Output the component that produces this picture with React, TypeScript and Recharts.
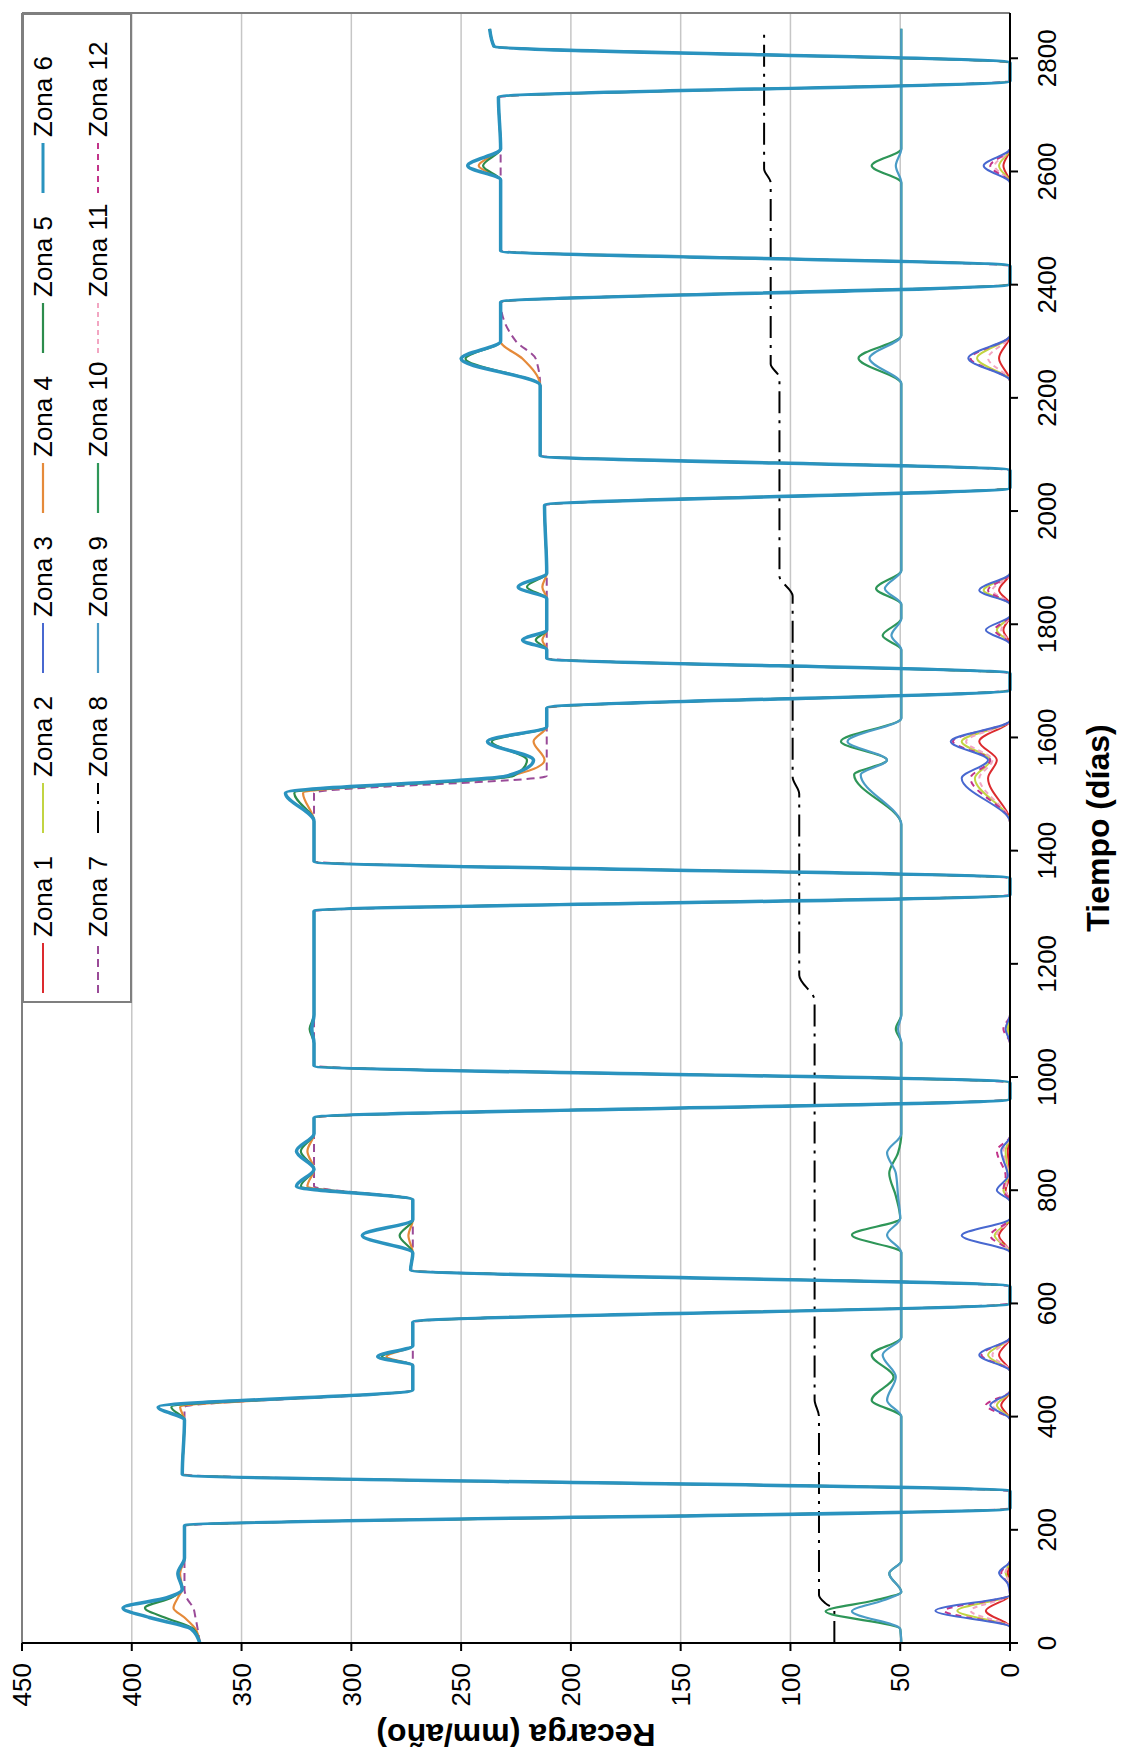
import React from 'react';
import { LineChart, Line, XAxis, YAxis, CartesianGrid, ReferenceLine, Label } from 'recharts';

// chart is drawn in its natural orientation and turned -90deg, like the scanned figure
const W = 1758;
const H = 1121;
const FONT = '"Liberation Sans", Arial, sans-serif';

const timeTicks = [0, 200, 400, 600, 800, 1000, 1200, 1400, 1600, 1800, 2000, 2200, 2400, 2600, 2800];
const recargaTicks = [0, 50, 100, 150, 200, 250, 300, 350, 400, 450];

// zonas altas (4, 5, 6, 7)
const tAlta = [
  0, 25, 45, 62, 80, 95, 123, 150, 207, 238,
  268, 298, 394, 417, 447, 490, 506, 525, 567, 600,
  630, 659, 689, 720, 748, 783, 807, 837, 869, 900,
  928, 961, 990, 1020, 1060, 1085, 1110, 1293, 1322, 1351,
  1381, 1452, 1502, 1532, 1560, 1593, 1619, 1652, 1684, 1713,
  1740, 1755, 1772, 1790, 1845, 1866, 1890, 2010, 2041, 2072,
  2098, 2222, 2269, 2300, 2369, 2401, 2433, 2460, 2585, 2610,
  2640, 2731, 2760, 2792, 2821, 2852,
];
const zona6 = [
  369, 373, 392, 404, 384, 377, 379, 376, 376, 0,
  0, 377, 376, 388, 272, 272, 288, 272, 272, 0,
  0, 273, 272, 295, 272, 272, 325, 317, 325, 317,
  317, 0, 0, 317, 317, 318, 317, 317, 0, 0,
  317, 317, 330, 229, 217, 238, 211, 211, 0, 0,
  211, 211, 222, 211, 211, 224, 211, 212, 0, 0,
  214, 214, 250, 232, 232, 0, 0, 232, 232, 247,
  232, 233, 0, 0, 235, 237,
];
const zona5 = [
  369, 372, 385, 394, 382, 377, 379, 376, 376, 0,
  0, 377, 376, 382, 272, 272, 286, 272, 272, 0,
  0, 273, 272, 278, 272, 272, 323, 317, 323, 317,
  317, 0, 0, 317, 317, 319, 317, 317, 0, 0,
  317, 317, 326, 226, 220, 236, 211, 211, 0, 0,
  211, 211, 216, 211, 211, 220, 211, 212, 0, 0,
  214, 214, 248, 232, 232, 0, 0, 232, 232, 240,
  232, 233, 0, 0, 235, 237,
];
const zona4 = [
  369, 371, 376, 381, 379, 377, 378, 376, 376, 0,
  0, 377, 376, 378, 272, 272, 284, 272, 272, 0,
  0, 273, 272, 274, 272, 272, 320, 317, 320, 317,
  317, 0, 0, 317, 317, 318, 317, 317, 0, 0,
  317, 317, 322, 228, 212, 217, 211, 211, 0, 0,
  211, 211, 213, 211, 211, 213, 211, 212, 0, 0,
  214, 214, 222, 232, 232, 0, 0, 232, 232, 242,
  232, 233, 0, 0, 235, 237,
];
const zona7 = [
  369, 370, 371, 372, 375, 376, 376, 376, 376, 0,
  0, 377, 376, 376, 272, 272, 272, 272, 272, 0,
  0, 273, 272, 272, 272, 272, 317, 317, 317, 317,
  317, 0, 0, 317, 317, 317, 317, 317, 0, 0,
  317, 317, 317, 211, 211, 211, 211, 211, 0, 0,
  211, 211, 211, 211, 211, 211, 211, 212, 0, 0,
  214, 214, 216, 225, 232, 0, 0, 232, 232, 232,
  232, 233, 0, 0, 235, 237,
];

// zonas en torno a 50 (9, 10)
const tMedia = [
  0, 25, 56, 75, 90, 123, 145, 400, 429, 470,
  509, 540, 690, 721, 750, 790, 830, 866, 900, 1060,
  1085, 1110, 1446, 1534, 1560, 1593, 1634, 1755, 1780, 1810,
  1835, 1863, 1895, 2225, 2270, 2310, 2580, 2610, 2640, 2852,
];
const zona9 = [
  49.5, 50, 72, 58, 49.5, 55, 49.5, 49.5, 56, 52,
  58, 49.5, 49.5, 56, 50, 51, 52, 56, 49.5, 49.5,
  51, 49.5, 49.5, 68, 56, 74, 49.5, 49.5, 54, 49.5,
  49.5, 57, 49.5, 49.5, 64, 49.5, 49.5, 52, 49.5, 49.5,
];
const zona10 = [
  49.5, 50, 84, 62, 49.5, 55, 49.5, 49.5, 63, 53,
  63, 49.5, 49.5, 72, 50, 52, 55, 51, 49.5, 49.5,
  52, 49.5, 49.5, 71, 56, 77, 49.5, 49.5, 58, 49.5,
  49.5, 61, 49.5, 49.5, 69, 49.5, 49.5, 63, 49.5, 49.5,
];

// zonas cercanas a 0 (1, 2, 3, 11, 12)
const tBaja = [
  0, 28, 57, 85, 105, 124, 145, 395, 420, 445,
  480, 509, 540, 690, 720, 750, 780, 800, 825, 870,
  895, 1060, 1085, 1110, 1450, 1528, 1560, 1593, 1630, 1765,
  1790, 1815, 1835, 1860, 1890, 2230, 2270, 2310, 2580, 2610,
  2640, 2852,
];
const zona1 = [
  0, 0, 11, 0, 0, 1, 0, 0, 4, 0,
  0, 5, 0, 0, 5, 0, 0, 2, 0, 1,
  0, 0, 1, 0, 0, 10, 6, 14, 0, 0,
  3, 0, 0, 5, 0, 0, 5, 0, 0, 3,
  0, 0,
];
const zona2 = [
  0, 0, 24, 0, 0, 2, 0, 0, 6, 0,
  0, 10, 0, 0, 7, 0, 0, 3, 1, 2,
  0, 0, 1, 0, 0, 16, 9, 22, 0, 0,
  6, 0, 0, 12, 0, 0, 15, 0, 0, 5,
  0, 0,
];
const zona3 = [
  0, 0, 34, 0, 1, 5, 0, 0, 9, 0,
  0, 14, 0, 0, 22, 0, 0, 6, 1, 4,
  0, 0, 2, 0, 0, 22, 10, 27, 0, 0,
  11, 0, 0, 14, 0, 0, 19, 0, 0, 12,
  0, 0,
];
const zona11 = [
  0, 0, 18, 0, 0, 2, 0, 0, 8, 0,
  0, 8, 0, 0, 6, 0, 0, 2, 1, 3,
  0, 0, 2, 0, 0, 14, 8, 20, 0, 0,
  4, 0, 0, 8, 0, 0, 10, 0, 0, 7,
  0, 0,
];
const zona12 = [
  0, 0, 30, 0, 1, 4, 0, 0, 11, 0,
  0, 13, 0, 0, 9, 0, 0, 3, 2, 6,
  0, 0, 3, 0, 0, 18, 9, 26, 0, 0,
  7, 0, 0, 10, 0, 0, 18, 0, 0, 9,
  0, 0,
];

// zona 8 (escalonada)
const tZona8 = [0, 58, 70, 85, 400, 430, 1135, 1180, 1500, 1530, 1850, 1885, 2235, 2260, 2580, 2605, 2852];
const zona8 = [80, 80, 84, 87, 87, 89, 89, 96, 96, 99, 99, 105, 105, 109, 109, 112, 112];

const toPoints = (t: number[], v: number[]) => t.map((d, i) => ({ t: d, v: v[i] }));

type Serie = { name: string; data: { t: number; v: number }[]; color: string; width: number; dash?: string };

const series: Serie[] = [
  { name: 'Zona 1', data: toPoints(tBaja, zona1), color: '#dc2a2e', width: 2 },
  { name: 'Zona 2', data: toPoints(tBaja, zona2), color: '#c2d442', width: 2 },
  { name: 'Zona 3', data: toPoints(tBaja, zona3), color: '#4868d0', width: 2 },
  { name: 'Zona 4', data: toPoints(tAlta, zona4), color: '#e58a3a', width: 2.2 },
  { name: 'Zona 5', data: toPoints(tAlta, zona5), color: '#2c8c4c', width: 2.2 },
  { name: 'Zona 6', data: toPoints(tAlta, zona6), color: '#2a93bf', width: 3.5 },
  { name: 'Zona 7', data: toPoints(tAlta, zona7), color: '#9a4b98', width: 2, dash: '8 5' },
  { name: 'Zona 8', data: toPoints(tZona8, zona8), color: '#000000', width: 2, dash: '22 7 3 7' },
  { name: 'Zona 9', data: toPoints(tMedia, zona9), color: '#4a9cc6', width: 2.2 },
  { name: 'Zona 10', data: toPoints(tMedia, zona10), color: '#2e9658', width: 2.2 },
  { name: 'Zona 11', data: toPoints(tBaja, zona11), color: '#f2a6c2', width: 2, dash: '5 4' },
  { name: 'Zona 12', data: toPoints(tBaja, zona12), color: '#c2348a', width: 2, dash: '6 5' },
];

// paint order so the cyan line sits on top, as in the figure
const drawOrder = ['Zona 8', 'Zona 10', 'Zona 9', 'Zona 1', 'Zona 2', 'Zona 11', 'Zona 12', 'Zona 3', 'Zona 7', 'Zona 4', 'Zona 5', 'Zona 6'];

const LegendBox = () => (
  <div
    style={{
      position: 'absolute',
      left: 755,
      top: 22,
      width: 990,
      height: 110,
      boxSizing: 'border-box',
      border: '2px solid #7f7f7f',
      background: '#fff',
      fontFamily: FONT,
    }}
  >
    {series.map((s, i) => {
      const row = Math.floor(i / 6);
      const col = i % 6;
      return (
        <div
          key={s.name}
          style={{
            position: 'absolute',
            left: 8 + col * 160,
            top: (row === 0 ? 21 : 76) - 2 - 16,
            height: 32,
            display: 'flex',
            alignItems: 'center',
            whiteSpace: 'nowrap',
          }}
        >
          <svg width={50} height={10}>
            <line x1={0} y1={5} x2={50} y2={5} stroke={s.color} strokeWidth={s.width > 3 ? 3 : s.width} strokeDasharray={s.dash} />
          </svg>
          <span style={{ fontSize: 26, marginLeft: 6, color: '#000' }}>{s.name}</span>
        </div>
      );
    })}
  </div>
);

export default function App() {
  return (
    <div style={{ position: 'absolute', left: 0, top: 0, width: H, height: W, overflow: 'hidden', background: '#fff' }}>
      <div
        style={{
          position: 'absolute',
          left: 0,
          top: 0,
          width: W,
          height: H,
          transformOrigin: '0 0',
          transform: `translateY(${W}px) rotate(-90deg)`,
          fontFamily: FONT,
        }}
      >
        <LineChart width={W} height={H} margin={{ top: 22, right: 13, bottom: 0, left: 0 }} style={{ fontFamily: FONT }}>
          <CartesianGrid horizontal vertical={false} stroke="#c6c6c6" strokeWidth={1.5} />
          <XAxis
            type="number"
            dataKey="t"
            domain={[0, 2880]}
            ticks={timeTicks}
            interval={0}
            allowDataOverflow
            height={111}
            tickSize={8}
            tickMargin={20}
            axisLine={{ stroke: '#000', strokeWidth: 2 }}
            tickLine={{ stroke: '#000', strokeWidth: 2 }}
            tick={{ fill: '#000', fontSize: 26, fontFamily: FONT }}
          >
            <Label value="Tiempo (días)" position="insideBottom" offset={12} fill="#000" style={{ fontSize: 32, fontWeight: 'bold', fontFamily: FONT }} />
          </XAxis>
          <YAxis
            type="number"
            domain={[0, 450]}
            ticks={recargaTicks}
            interval={0}
            width={115}
            tickSize={8}
            tickMargin={12}
            axisLine={{ stroke: '#000', strokeWidth: 2 }}
            tickLine={{ stroke: '#000', strokeWidth: 2 }}
            tick={{ fill: '#000', fontSize: 26, fontFamily: FONT }}
          >
            <Label
              value="Recarga (mm/año)"
              angle={-90}
              position="insideLeft"
              offset={23}
              fill="#000"
              style={{ fontSize: 32, fontWeight: 'bold', textAnchor: 'middle', fontFamily: FONT }}
            />
          </YAxis>
          <ReferenceLine y={450} stroke="#7f7f7f" strokeWidth={2} />
          <ReferenceLine x={2880} stroke="#7f7f7f" strokeWidth={2} />
          {drawOrder.map((name) => {
            const s = series.find((d) => d.name === name)!;
            return (
              <Line
                key={s.name}
                name={s.name}
                data={s.data}
                dataKey="v"
                type="monotone"
                stroke={s.color}
                strokeWidth={s.width}
                strokeDasharray={s.dash}
                dot={false}
                activeDot={false}
                isAnimationActive={false}
              />
            );
          })}
        </LineChart>
        <LegendBox />
      </div>
    </div>
  );
}
